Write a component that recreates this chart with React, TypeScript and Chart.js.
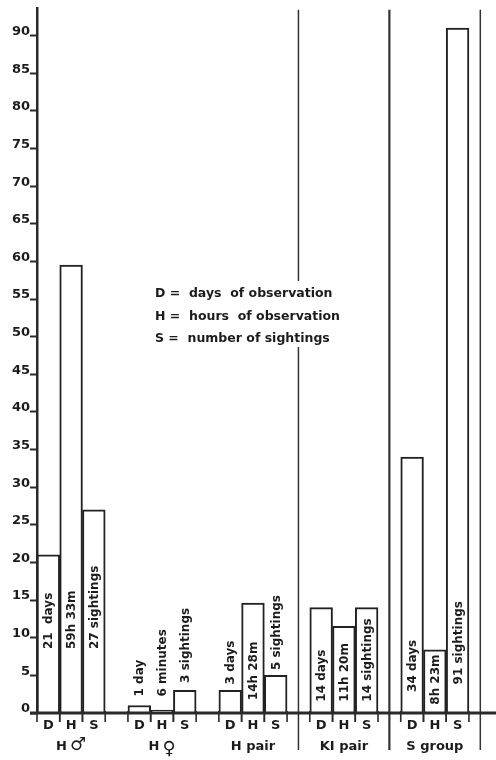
import React, { useEffect, useRef } from 'react';
import { Chart, registerables } from 'chart.js';

Chart.register(...registerables);

// ---- data ----
const groupNames = ['H', 'H', 'H pair', 'KI pair', 'S group'];
const groupSymbols = ['♂', '♀', '', '', ''];
const measures = ['D', 'H', 'S'];
const daysObserved = [21, 1, 3, 14, 34];
const hoursObserved = [59.5, 0.4, 14.6, 11.5, 8.4];
const sightings = [27, 3, 5, 14, 91];
const daysText = ['21  days', '1 day', '3 days', '14 days', '34 days'];
const hoursText = ['59h 33m', '6 minutes', '14h 28m', '11h 20m', '8h 23m'];
const sightingsText = ['27 sightings', '3 sightings', '5 sightings', '14 sightings', '91 sightings'];
// value (in y units) at which each rotated bar label starts
const daysTextStart = [8.5, 2.2, 3.8, 1.5, 2.8];
const hoursTextStart = [8.5, 2.2, 1.7, 1.5, 1.1];
const sightingsTextStart = [8.5, 4.0, 5.7, 1.5, 3.8];
const yMax = 93.7;
const yStep = 5;
const legendLines = ['D =  days  of observation', 'H =  hours  of observation', 'S =  number of sightings'];
const dividersAfterGroup = [2, 3, 4];

const SLOTS_PER_GROUP = 4;
const seriesValues = [daysObserved, hoursObserved, sightings];
const seriesTexts = [daysText, hoursText, sightingsText];
const seriesStarts = [daysTextStart, hoursTextStart, sightingsTextStart];

type Pt = { x: number; y: number; g: number; m: number };
const points: Pt[] = [];
groupNames.forEach((_, g) => {
  measures.forEach((__, m) => {
    points.push({ x: g * SLOTS_PER_GROUP + m, y: seriesValues[m][g], g, m });
  });
});

const FONT = 'DejaVu Sans';
const INK = '#1c1c1c';

const decorPlugin = {
  id: 'decor',
  afterDatasetsDraw(chart: any) {
    const { ctx, chartArea } = chart;
    const x = chart.scales.x;
    const y = chart.scales.y;
    const y0 = y.getPixelForValue(0);
    ctx.save();
    // dividers
    const widths = [1.5, 2.2, 1.5];
    dividersAfterGroup.forEach((g, i) => {
      const px = x.getPixelForValue(g * SLOTS_PER_GROUP + 3);
      ctx.strokeStyle = '#333';
      ctx.lineWidth = widths[i];
      ctx.beginPath();
      ctx.moveTo(px, chartArea.top + 2);
      ctx.lineTo(px, 750);
      ctx.stroke();
    });
    // x-axis line
    ctx.strokeStyle = '#2a2a2a';
    ctx.lineWidth = 3;
    ctx.beginPath();
    ctx.moveTo(30, y0);
    ctx.lineTo(chartArea.right, y0);
    ctx.stroke();
    // tick marks at bar edges
    ctx.lineWidth = 1.6;
    points.forEach((p) => {
      [p.x - 0.5, p.x + 0.5].forEach((v) => {
        const px = x.getPixelForValue(v);
        ctx.beginPath();
        ctx.moveTo(px, y0 - 2);
        ctx.lineTo(px, y0 + 9);
        ctx.stroke();
      });
    });
    // measure labels
    ctx.fillStyle = INK;
    ctx.font = `bold 13px "${FONT}"`;
    ctx.textAlign = 'center';
    ctx.textBaseline = 'middle';
    points.forEach((p) => {
      ctx.fillText(measures[p.m], x.getPixelForValue(p.x), y0 + 13);
    });
    // group labels
    groupNames.forEach((name, g) => {
      const cx = x.getPixelForValue(g * SLOTS_PER_GROUP + 1);
      const cy = y0 + 34;
      const sym = groupSymbols[g];
      ctx.font = `bold 13px "${FONT}"`;
      if (!sym) {
        ctx.textAlign = 'center';
        ctx.fillText(name, cx, cy);
      } else {
        const wName = ctx.measureText(name).width;
        ctx.font = `bold 18px "${FONT}"`;
        const wSym = ctx.measureText(sym).width;
        const gap = 3;
        const start = cx - (wName + gap + wSym) / 2;
        ctx.textAlign = 'left';
        ctx.font = `bold 13px "${FONT}"`;
        ctx.fillText(name, start, cy);
        ctx.font = `bold 18px "${FONT}"`;
        ctx.fillText(sym, start + wName + gap, cy + (g === 1 ? 2 : -2));
      }
    });
    // rotated bar labels
    ctx.font = `bold 12px "${FONT}"`;
    ctx.textAlign = 'left';
    ctx.textBaseline = 'middle';
    points.forEach((p) => {
      const px = x.getPixelForValue(p.x);
      const py = y.getPixelForValue(seriesStarts[p.m][p.g]);
      ctx.save();
      ctx.translate(px + 1, py);
      ctx.rotate(-Math.PI / 2);
      ctx.fillText(seriesTexts[p.m][p.g], 0, 0);
      ctx.restore();
    });
    // legend
    ctx.fillStyle = '#fff';
    ctx.fillRect(148, 281, 196, 66);
    ctx.fillStyle = INK;
    ctx.font = `bold 12.5px "${FONT}"`;
    ctx.textAlign = 'left';
    ctx.textBaseline = 'middle';
    legendLines.forEach((line, i) => {
      ctx.fillText(line, 155, 294 + i * 22.5);
    });
    ctx.restore();
  },
};

export default function App() {
  const ref = useRef<HTMLCanvasElement>(null);
  useEffect(() => {
    const chart = new Chart(ref.current as HTMLCanvasElement, {
      type: 'bar',
      data: {
        datasets: [
          {
            data: points as any,
            backgroundColor: '#ffffff',
            borderColor: '#222',
            borderWidth: 2,
            barPercentage: 1,
            categoryPercentage: 1,
          },
        ],
      },
      options: {
        animation: false,
        responsive: false,
        maintainAspectRatio: false,
        layout: { padding: { top: 5, bottom: 47, left: 0, right: 0 } },
        plugins: { legend: { display: false }, tooltip: { enabled: false } },
        scales: {
          x: {
            type: 'linear',
            display: false,
            offset: false,
            min: -0.5,
            max: 19.69,
            grid: { offset: false },
            ticks: { stepSize: 1, includeBounds: false },
          },
          y: {
            type: 'linear',
            min: 0,
            max: yMax,
            afterFit: (s: any) => {
              s.width = 37;
            },
            border: { display: true, color: '#2a2a2a', width: 2.5 },
            grid: {
              drawOnChartArea: false,
              drawTicks: true,
              tickLength: 7,
              tickColor: '#2a2a2a',
              tickWidth: 2,
            },
            ticks: {
              stepSize: yStep,
              includeBounds: false,
              padding: 0,
              labelOffset: -4,
              color: INK,
              font: { family: FONT, weight: 'bold', size: 13 },
            },
          },
        },
      },
      plugins: [decorPlugin],
    });
    return () => chart.destroy();
  }, []);
  return (
    <div style={{ position: 'absolute', left: 0, top: 0, width: 496, height: 760, background: '#fff' }}>
      <canvas ref={ref} width={496} height={760} style={{ display: 'block' }} />
    </div>
  );
}
